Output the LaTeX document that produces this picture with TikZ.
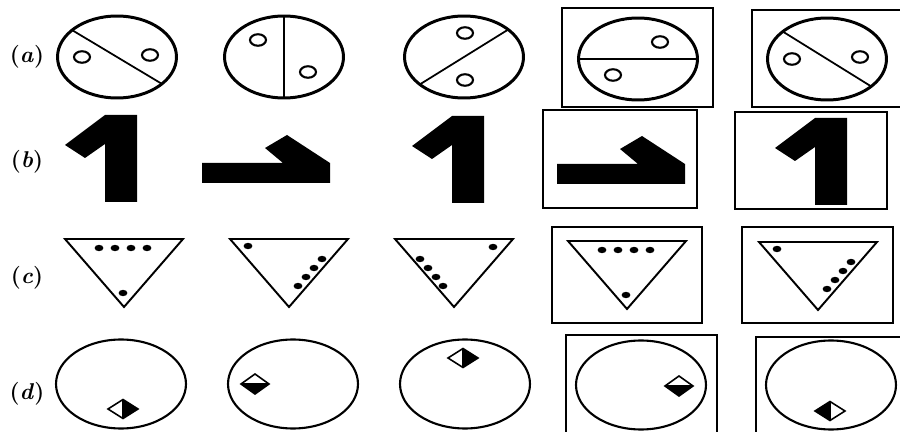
\documentclass[tikz,border=0pt]{standalone}
\usepackage{tikz}

\begin{document}
\begin{tikzpicture}[
  x=0.02cm, y=-0.02cm,
  rowlabel/.style={font=\fontsize{13}{15}\selectfont\bfseries, inner sep=0pt},
  rim/.style={line width=1.7pt},
  thinrim/.style={line width=1.2pt},
  cut/.style={line width=1.0pt},
  hole/.style={line width=1.2pt},
  tri/.style={line width=1.1pt},
  gem/.style={line width=0.9pt, line join=miter},
  frame/.style={line width=1.2pt},
]
\useasboundingbox (0,0) rectangle (900,432);
\clip (0,0) rectangle (900,432);

% row labels
\node[rowlabel] (la) at (27,57)  {(\textit{a})};
\node[rowlabel] (lb) at (27,162) {(\textit{b})};
\node[rowlabel] (lc) at (27,278) {(\textit{c})};
\node[rowlabel] (ld) at (27,394) {(\textit{d})};

% =====================================================================
% Row (a) -- split circles with two holes
% =====================================================================
\foreach \cx/\cy/\t in {117/57/221, 284/57/270, 464/57/138, 638/59/180, 827/59/222} {
  \draw[rim] (\cx,\cy) ellipse [x radius=1.19cm, y radius=0.82cm];
  \draw[cut] (\cx,\cy) +(\t:1.19cm and -0.82cm) -- +(\t+180:1.19cm and -0.82cm);
}
\foreach \hx/\hy in {82/57, 150/55, 258/40, 308/72, 465/33,
                     465/80, 660/42, 613/75, 792/59, 860/57} {
  \draw[hole] (\hx,\hy) ellipse [x radius=0.16cm, y radius=0.115cm];
}

% =====================================================================
% Row (b) -- the "1" figure, upright and turned
% =====================================================================
% upright: (\bx,\by) = top-left corner of the bar
\foreach \bx/\by in {105/115, 452/116, 815/118} {
  \fill (\bx,\by) -- ++(32,0) -- ++(0,87) -- ++(-32,0) -- ++(0,-58)
        -- ++(-20,14) -- ++(-20,-13) -- cycle;
}
% turned: (\rx,\ry) = top-right corner of the bar
\foreach \rx/\ry in {330/163, 685/164} {
  \fill (\rx,\ry) -- ++(0,20) -- ++(-128,0) -- ++(0,-20) -- ++(81,0)
        -- ++(-18,-15) -- ++(22,-13) -- cycle;
}

% =====================================================================
% Row (c) -- triangles with dots
% =====================================================================
\foreach \tx/\ty in {65/239, 230/239, 395/239, 568/241, 759/242} {
  \draw[tri] (\tx,\ty) -- ++(118,0) -- ++(-59,68) -- cycle;
}
% four on top, one at the tip
\foreach \tx/\ty in {65/239, 568/241}
  \foreach \dx/\dy in {34/9, 50/9, 66/9, 82/9, 58/54}
    \fill (\tx+\dx,\ty+\dy) ellipse [x radius=0.088cm, y radius=0.064cm];
% one top-left, four down the right side
\foreach \tx/\ty in {230/239, 759/242}
  \foreach \dx/\dy in {18/7, 92/20, 84/29, 76/38, 68/47}
    \fill (\tx+\dx,\ty+\dy) ellipse [x radius=0.088cm, y radius=0.064cm];
% one top-right, four down the left side
\foreach \dx/\dy in {98/8, 25/20, 33/29, 41/38, 48/47}
  \fill (395+\dx,239+\dy) ellipse [x radius=0.088cm, y radius=0.064cm];

% =====================================================================
% Row (d) -- circles with a half-black diamond
% =====================================================================
\foreach \cx/\cy in {121/384, 293/384, 465/384, 641/385, 831/385} {
  \draw[thinrim] (\cx,\cy) ellipse [x radius=1.3cm, y radius=0.89cm];
}
% split left/right (\s = 1: right half black, -1: left half black)
\foreach \qx/\qy/\s in {123/409/1, 463/358/1, 830/411/-1} {
  \fill (\qx,\qy-9.5) -- (\qx+\s*15,\qy) -- (\qx,\qy+9.5) -- cycle;
  \draw[gem] (\qx-15,\qy) -- (\qx,\qy-9.5) -- (\qx+15,\qy) -- (\qx,\qy+9.5) -- cycle;
  \draw[gem] (\qx,\qy-9.5) -- (\qx,\qy+9.5);
}
% split top/bottom, bottom half black
\foreach \qx/\qy in {255/384, 679/386} {
  \fill (\qx-14,\qy) -- (\qx+14,\qy) -- (\qx,\qy+10) -- cycle;
  \draw[gem] (\qx-14,\qy) -- (\qx,\qy-10) -- (\qx+14,\qy) -- (\qx,\qy+10) -- cycle;
  \draw[gem] (\qx-14,\qy) -- (\qx+14,\qy);
}

% =====================================================================
% Frames round the last two figures of each row
% =====================================================================
\foreach \fxL/\fyT/\fxR/\fyB in {562/8/713/107,   752/10/920/107,
                                 543/110/697/208, 735/112/887/209,
                                 552/227/702/323, 742/227/893/323,
                                 566/335/717/450, 756/337/920/450} {
  \draw[frame] (\fxL,\fyT) rectangle (\fxR,\fyB);
}

\end{tikzpicture}
\end{document}
